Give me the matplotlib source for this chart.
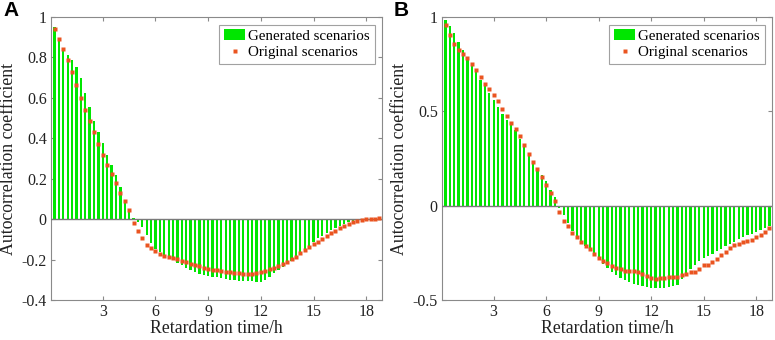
import numpy as np
import matplotlib
matplotlib.use("Agg")
import matplotlib.pyplot as plt
from matplotlib.patches import Patch
from matplotlib.lines import Line2D

plt.rcParams['font.family'] = ['Liberation Serif', 'DejaVu Serif']
plt.rcParams['axes.unicode_minus'] = False

step = 0.25
n_lags = 75

gen_A = [0.95, 0.897, 0.848, 0.811, 0.786, 0.753, 0.696, 0.625, 0.553, 0.487,
         0.43, 0.375, 0.319, 0.266, 0.218, 0.157, 0.096, 0.051, 0.008,
         -0.012, -0.04, -0.08, -0.12, -0.15, -0.165, -0.178, -0.19, -0.203, -0.215,
         -0.228, -0.24, -0.252, -0.262, -0.27, -0.278, -0.283, -0.285, -0.288, -0.292,
         -0.296, -0.3, -0.302, -0.304, -0.305, -0.306, -0.307,
         -0.309, -0.312, -0.301, -0.284, -0.268, -0.251, -0.235, -0.218, -0.207, -0.185,
         -0.165, -0.147, -0.131, -0.111, -0.094, -0.083, -0.069, -0.055, -0.045, -0.033,
         -0.025, -0.015, -0.008, -0.005, -0.002, -0.001, 0.0, 0.001, 0.002]
orig_A = [0.943, 0.89, 0.84, 0.788, 0.726, 0.663, 0.599, 0.542, 0.484, 0.43,
          0.374, 0.318, 0.268, 0.223, 0.177, 0.131, 0.09, 0.043, -0.021, -0.06,
          -0.094, -0.127, -0.144, -0.16, -0.172, -0.18, -0.187, -0.194, -0.199, -0.207,
          -0.213, -0.22, -0.227, -0.233, -0.24, -0.245, -0.25, -0.253, -0.258, -0.261,
          -0.263, -0.265, -0.266, -0.27, -0.271, -0.271,
          -0.268, -0.263, -0.256, -0.248, -0.241, -0.233, -0.223, -0.21, -0.198, -0.185,
          -0.169, -0.153, -0.138, -0.124, -0.111, -0.096, -0.084, -0.071, -0.058, -0.045,
          -0.035, -0.025, -0.015, -0.008, -0.002, 0.0, 0.002, 0.003, 0.005]

gen_B = [0.984, 0.954, 0.913, 0.869, 0.824, 0.789, 0.754, 0.71, 0.665, 0.635,
         0.598, 0.559, 0.523, 0.488, 0.452, 0.426, 0.399, 0.355, 0.311, 0.27,
         0.235, 0.2, 0.165, 0.13, 0.085, 0.045,
         -0.01, -0.05, -0.09, -0.135, -0.165, -0.19, -0.215, -0.24, -0.265, -0.29,
         -0.31, -0.33, -0.35, -0.368, -0.382, -0.395, -0.405, -0.414, -0.42, -0.425,
         -0.43, -0.434, -0.436, -0.437, -0.436, -0.432, -0.428, -0.42, -0.39, -0.36,
         -0.335, -0.315, -0.295, -0.28, -0.268, -0.255, -0.242, -0.229, -0.216, -0.203,
         -0.19, -0.178, -0.168, -0.158, -0.148, -0.138, -0.128, -0.117, -0.106]
orig_B = [0.957, 0.903, 0.858, 0.825, 0.805, 0.782, 0.752, 0.718, 0.683, 0.647,
          0.621, 0.589, 0.554, 0.514, 0.474, 0.44, 0.406, 0.367, 0.32, 0.275,
          0.234, 0.192, 0.151, 0.112, 0.066, 0.023,
          -0.033, -0.08, -0.11, -0.143, -0.168, -0.191, -0.212, -0.232, -0.257, -0.28,
          -0.294, -0.305, -0.319, -0.33, -0.338, -0.345, -0.345, -0.347, -0.354, -0.363,
          -0.372, -0.381, -0.39, -0.386, -0.381, -0.376, -0.376, -0.377, -0.369, -0.363,
          -0.354, -0.349, -0.335, -0.317, -0.312, -0.298, -0.283, -0.262, -0.248, -0.225,
          -0.209, -0.204, -0.195, -0.189, -0.182, -0.168, -0.154, -0.142, -0.119]

xticks = [3, 6, 9, 12, 15, 18]
yticks_A = [-0.4, -0.2, 0, 0.2, 0.4, 0.6, 0.8, 1]
ytick_labels_A = ['-0.4', '-0.2', '0', '0.2', '0.4', '0.6', '0.8', '1']
yticks_B = [-0.5, 0, 0.5, 1]
ytick_labels_B = ['-0.5', '0', '0.5', '1']

lags = np.arange(1, n_lags + 1) * step

GREEN = '#00e600'
ORANGE = '#ea5420'
GRAY = '#8a8a8a'
TXT = '#222222'

fig = plt.figure(figsize=(7.75, 3.4), dpi=100)
axA = fig.add_axes([51/775, 40/340, 331/775, 283/340])
axB = fig.add_axes([442/775, 40/340, 330/775, 283/340])

def draw(ax, gen, orig, yticks, ylabels, ylim):
    ax.bar(lags, gen, width=0.13, color=GREEN, edgecolor='none', zorder=2)
    ax.axhline(0, color='#7a7a7a', lw=1.0, zorder=3)
    ax.plot(lags, orig, 's', color=ORANGE, ms=2.6, mec='none', zorder=4)
    ax.set_xlim(0.05, 18.9)
    ax.set_ylim(*ylim)
    ax.set_xticks(xticks)
    ax.set_xticklabels([str(t) for t in xticks])
    ax.set_yticks(yticks)
    ax.set_yticklabels(ylabels)
    ax.tick_params(direction='in', length=3, width=0.8, colors=GRAY,
                   labelcolor=TXT, labelsize=11.5, top=True, right=True,
                   pad=3)
    for s in ax.spines.values():
        s.set_color(GRAY)
        s.set_linewidth(0.8)
    ax.set_xlabel('Retardation time/h', fontsize=12.8, color=TXT, labelpad=0)
    ax.set_ylabel('Autocorrelation coefficient', fontsize=12.8, color=TXT, labelpad=3)
    handles = [Patch(facecolor=GREEN, edgecolor='none', label='Generated scenarios'),
               Line2D([], [], marker='s', ls='none', color=ORANGE, ms=2.6, mec='none',
                      label='Original scenarios')]
    leg = ax.legend(handles=handles, loc='upper right', fontsize=10.8, frameon=True,
                    fancybox=False, edgecolor=GRAY, borderpad=0.3, labelspacing=0.2,
                    handlelength=1.45, handletextpad=0.2, borderaxespad=0.5)
    leg.get_frame().set_linewidth(0.8)

draw(axA, gen_A, orig_A, yticks_A, ytick_labels_A, (-0.4, 1.0))
draw(axB, gen_B, orig_B, yticks_B, ytick_labels_B, (-0.5, 1.0))

fig.text(3/775, 1 - 1/340, 'A', fontsize=15, fontweight='bold',
         family=['Liberation Sans', 'DejaVu Sans'], va='top', ha='left')
fig.text(394/775, 1 - 1/340, 'B', fontsize=15, fontweight='bold',
         family=['Liberation Sans', 'DejaVu Sans'], va='top', ha='left')

fig.savefig('out.png', dpi=100)
